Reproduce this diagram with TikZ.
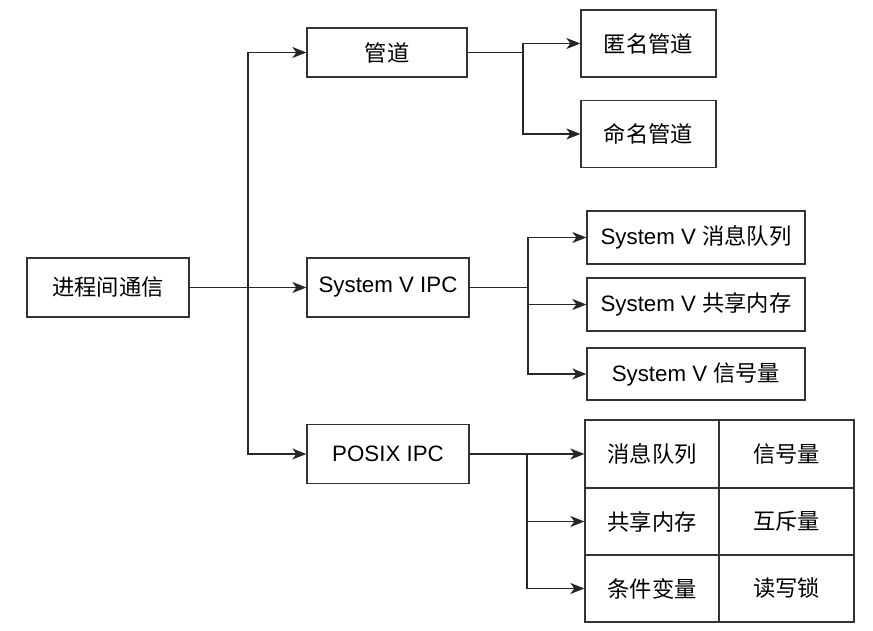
\documentclass[tikz,border=0pt]{standalone}
\usepackage{fontspec}
\setmainfont{Liberation Sans}
\newfontfamily\cjk{Noto Sans CJK SC}
\usetikzlibrary{arrows.meta}
\definecolor{edge}{HTML}{333333}
\tikzset{
  box/.style={draw=edge, line width=1.3pt, fill=white, inner sep=0pt, font=\fontsize{22.3}{26}\selectfont},
  conn/.style={draw=black!85, line width=1.3pt, -{Stealth[length=14pt,width=11pt,inset=4pt]}},
  plain/.style={draw=black!85, line width=1.3pt},
}
\begin{document}
\begin{tikzpicture}[x=1pt,y=-1pt]
\useasboundingbox[fill=white] (0,0) rectangle (873,631);
% level 0 and 1
\node[box, minimum width=162pt, minimum height=59pt] (root) at (108,287.5) {\cjk 进程间通信};
\node[box, minimum width=160pt, minimum height=49pt] (pipe) at (387,52.5) {\cjk 管道};
\node[box, minimum width=162pt, minimum height=59pt] (sysv) at (388,287.5) {System V IPC};
\node[box, minimum width=162pt, minimum height=59pt] (posix) at (388,454) {POSIX IPC};
% pipes
\node[box, minimum width=135pt, minimum height=67pt] (anon) at (648.5,43.5) {\cjk 匿名管道};
\node[box, minimum width=135pt, minimum height=67pt] (named) at (648.5,134) {\cjk 命名管道};
% System V
\node[box, minimum width=218pt, minimum height=53pt] (sv1) at (696,237.5) {System V {\cjk 消息队列}};
\node[box, minimum width=218pt, minimum height=53pt] (sv2) at (696,304.5) {System V {\cjk 共享内存}};
\node[box, minimum width=218pt, minimum height=52pt] (sv3) at (696,374) {System V {\cjk 信号量}};
% POSIX table
\node[box, minimum width=134pt, minimum height=68pt] (c11) at (652,454) {\cjk 消息队列};
\node[box, minimum width=135pt, minimum height=68pt] (c12) at (786.5,454) {\cjk 信号量};
\node[box, minimum width=134pt, minimum height=67pt] (c21) at (652,521.5) {\cjk 共享内存};
\node[box, minimum width=135pt, minimum height=67pt] (c22) at (786.5,521.5) {\cjk 互斥量};
\node[box, minimum width=134pt, minimum height=67pt] (c31) at (652,588.5) {\cjk 条件变量};
\node[box, minimum width=135pt, minimum height=67pt] (c32) at (786.5,588.5) {\cjk 读写锁};
% junctions
\coordinate (j0) at (248,287.5);
\coordinate (j1) at (523,52.5);
\coordinate (j2) at (528,287.5);
\coordinate (j3) at (527,454);
% connectors
\draw[conn] (root.east) -- (sysv.west);
\draw[conn] (j0) |- (pipe.west);
\draw[conn] (j0) |- (posix.west);
\draw[plain] (pipe.east) -- (j1);
\draw[conn] (j1) |- (anon.west);
\draw[conn] (j1) |- (named.west);
\draw[plain] (sysv.east) -- (j2);
\draw[conn] (j2) |- (sv1.west);
\draw[conn] (j2) |- (sv2.west);
\draw[conn] (j2) |- (sv3.west);
\draw[conn] (posix.east) -- (c11.west);
\draw[conn] (j3) |- (c21.west);
\draw[conn] (j3) |- (c31.west);
\end{tikzpicture}
\end{document}
